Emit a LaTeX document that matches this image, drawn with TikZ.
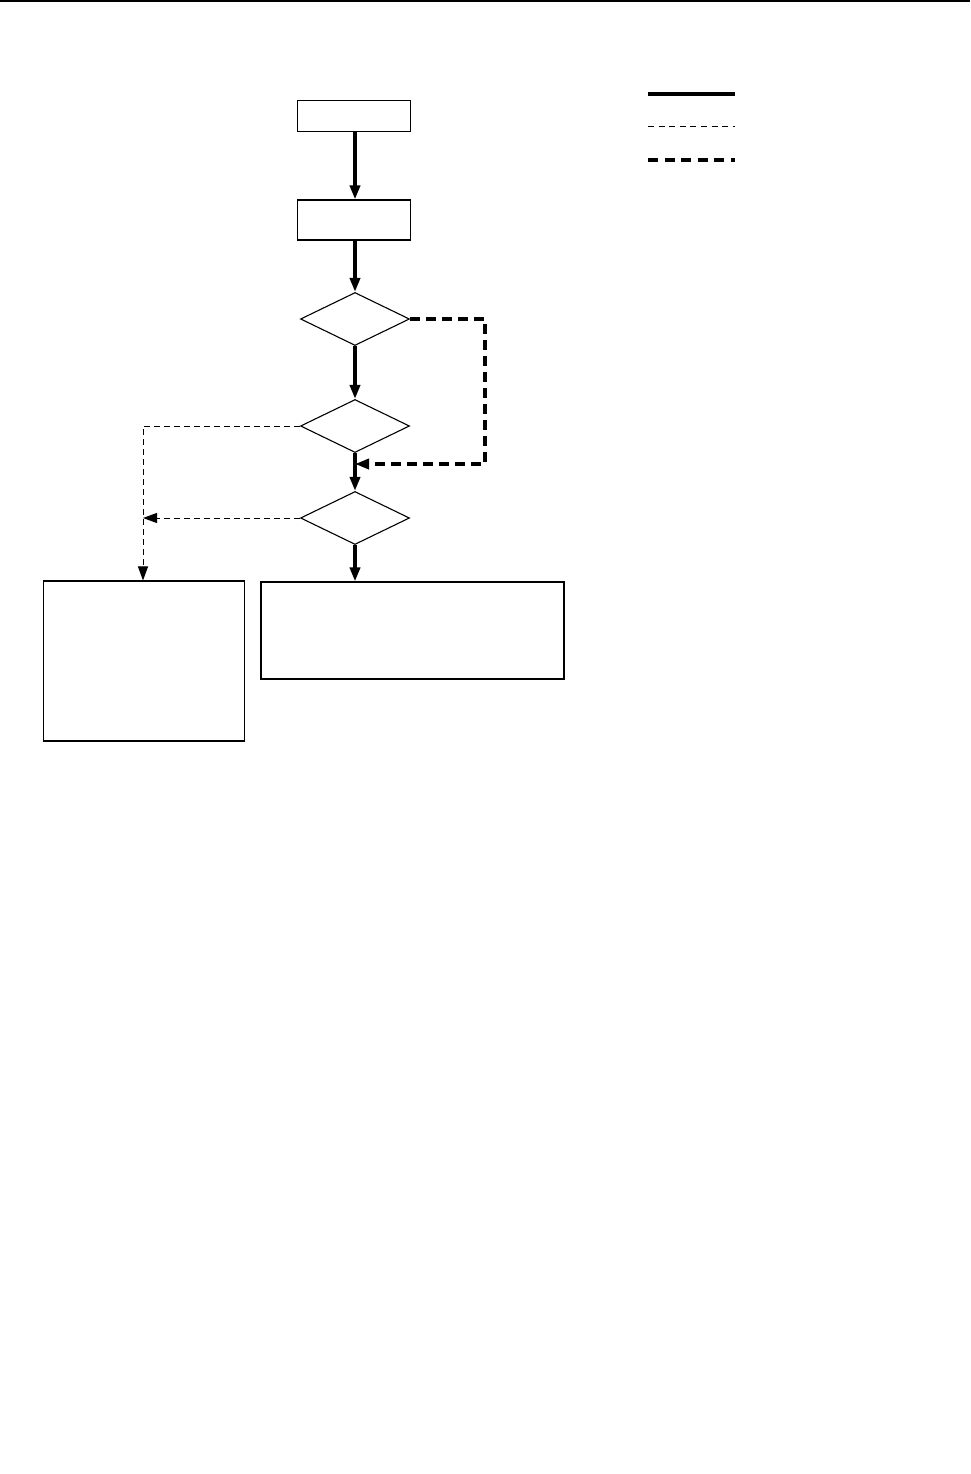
\documentclass[tikz,border=0pt]{standalone}
\usetikzlibrary{arrows.meta,shapes.geometric}
\tikzset{
  boxnode/.style={draw,line width=1.1pt,inner sep=0pt,rectangle},
  dianode/.style={draw,line width=1.1pt,inner sep=0pt,diamond,minimum width=109pt,minimum height=53pt},
  headtip/.style={-{Triangle[length=14pt,width=10pt]}},
  thickflow/.style={line width=3.6pt,headtip},
  thinflow/.style={line width=1pt,dash pattern=on 6pt off 4pt,headtip},
  thickdashflow/.style={line width=3.6pt,dash pattern=on 10pt off 6pt,headtip},
}
\begin{document}
\begin{tikzpicture}[x=1pt,y=-1pt]
\useasboundingbox (0,0) rectangle (970,1474);
\draw[line width=2.5pt] (0,1) -- (970,1);
% nodes
\node[boxnode,minimum width=113pt,minimum height=31pt] (b1) at (354,116) {};
\node[boxnode,minimum width=113pt,minimum height=40pt] (b2) at (354,220) {};
\node[dianode] (d1) at (355,319) {};
\node[dianode] (d2) at (355,426) {};
\node[dianode] (d3) at (355,518) {};
\node[boxnode,minimum width=201pt,minimum height=160pt] (bl) at (144,661) {};
\node[boxnode,minimum width=303pt,minimum height=97pt] (br) at (412.5,630.5) {};
\coordinate (j) at (355,464);
\coordinate (k) at (143,518);
\coordinate (lt) at (143,425);
% connectors
\draw[thickflow] (b1.south -| d1.north) -- (b2.north -| d1.north);
\draw[thickflow] (b2.south -| d1.north) -- (d1.north);
\draw[thickflow] (d1.south) -- (d2.north);
\draw[thickflow] (d2.south) -- (d3.north);
\draw[thickflow] (d3.south) -- (br.north -| d3.south);
\draw[thickdashflow] (d1.east) -- (485,319) |- (j);
\draw[thinflow] (d2.west) -| (bl.north -| lt);
\draw[thinflow] (d3.west) -- (k);
% legend
\coordinate (la1) at (648,94); \coordinate (la2) at (735,94);
\coordinate (lb1) at (648,127); \coordinate (lb2) at (735,127);
\coordinate (lc1) at (648,160); \coordinate (lc2) at (735,160);
\draw[line width=3.6pt] (la1) -- (la2);
\draw[line width=1pt,dash pattern=on 6pt off 4.6pt] (lb1) -- (lb2);
\draw[line width=3.6pt,dash pattern=on 10pt off 6.6pt] (lc1) -- (lc2);
\end{tikzpicture}
\end{document}
